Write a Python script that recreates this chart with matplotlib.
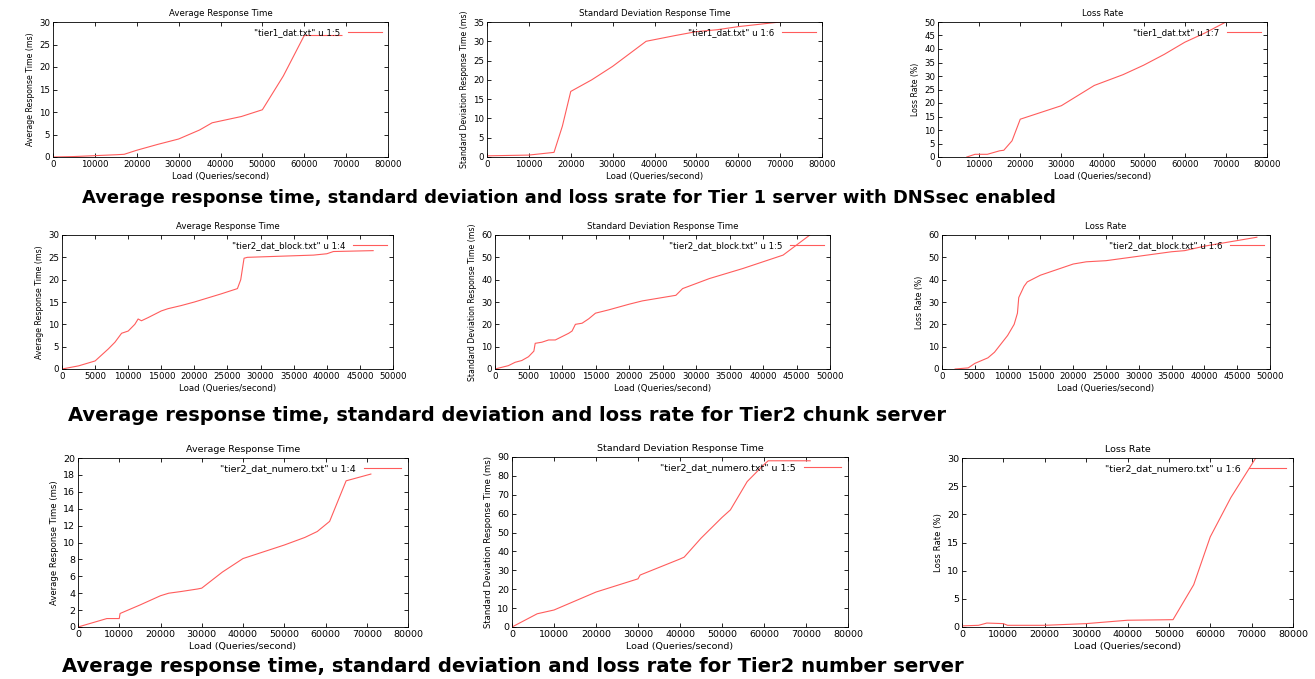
import matplotlib
matplotlib.use("Agg")
import matplotlib.pyplot as plt

plt.rcParams['font.family'] = ['DejaVu Sans']

W, H = 1315, 679
RED = '#ff5c5c'

# ---- Tier 1 (DNSsec) ----
t1_avg_x = [0, 5000, 10000, 15000, 17000, 20000, 25000, 30000, 35000, 38000, 45000, 50000, 55000, 60000, 69000]
t1_avg_y = [0, 0.1, 0.3, 0.5, 0.6, 1.5, 2.8, 4, 6, 7.6, 9, 10.5, 18, 27, 27]
t1_std_x = [0, 10000, 16000, 18000, 20000, 25000, 30000, 38000, 45000, 50000, 55000, 60000, 70000]
t1_std_y = [0.3, 0.5, 1.2, 8, 17, 20, 23.5, 30, 31.5, 32.5, 33, 33.8, 35]
t1_loss_x = [7000, 9000, 12000, 15000, 16000, 18000, 20000, 25000, 30000, 38000, 45000, 50000, 55000, 60000, 65000, 70000]
t1_loss_y = [0, 1, 1, 2.3, 2.5, 6, 14, 16.5, 19, 26.5, 30.5, 34, 38, 42.5, 46, 50]

# ---- Tier 2 chunk server ----
ch_avg_x = [0, 2500, 5000, 7000, 8000, 9000, 10000, 11000, 11500, 12000, 13000, 15000, 16000, 18000, 20000,
            24000, 26500, 27000, 27500, 28000, 32000, 38000, 40000, 41000, 47000]
ch_avg_y = [0, 0.7, 1.8, 4.5, 6, 8, 8.5, 10, 11.2, 10.8, 11.5, 13, 13.5, 14.2, 15,
            16.8, 18, 20, 24.8, 25, 25.2, 25.5, 25.8, 26.3, 26.5]
ch_std_x = [0, 2000, 3000, 4000, 5000, 5800, 6000, 7000, 8000, 9000, 10000, 11000, 11500, 12000, 13000, 14000,
            15000, 17000, 20000, 22000, 26000, 27000, 28000, 32000, 37000, 41000, 43000, 47000]
ch_std_y = [0, 1.5, 3, 3.8, 5.5, 8, 11.5, 12, 13, 13, 14.5, 16, 17, 20, 20.5, 22.5,
            25, 26.5, 29, 30.5, 32.5, 33, 36, 40.5, 45, 49, 51, 60]
ch_loss_x = [2000, 4000, 5000, 7000, 8000, 10000, 11000, 11500, 11700, 12500, 13000, 15000, 17000, 20000, 22000,
             25000, 30000, 35000, 37000, 40000, 45000, 48000]
ch_loss_y = [0, 0.5, 2.5, 5, 7.5, 15, 20, 25, 32, 37, 39, 42, 44, 47, 48,
             48.5, 50.5, 52.5, 53, 55, 57.5, 59]

# ---- Tier 2 number server ----
nu_avg_x = [0, 7000, 10000, 10200, 15000, 20000, 22000, 25000, 29000, 30000, 35000, 40000, 45000, 50000,
            55000, 58000, 61000, 65000, 71000]
nu_avg_y = [0, 1, 1, 1.6, 2.6, 3.7, 4, 4.2, 4.5, 4.6, 6.5, 8.1, 8.9, 9.7,
            10.6, 11.3, 12.5, 17.3, 18.1]
nu_std_x = [0, 6000, 10000, 20000, 30000, 30500, 40000, 41000, 45000, 50000, 52000, 56000, 60000, 61000, 71000]
nu_std_y = [0, 7, 9, 18.5, 25.5, 27.5, 36, 37, 47, 58, 62, 77, 86, 88, 88]
nu_loss_x = [0, 4000, 6000, 10000, 11000, 20000, 30000, 40000, 51000, 56000, 60000, 65000, 71000]
nu_loss_y = [0.2, 0.3, 0.7, 0.6, 0.3, 0.3, 0.6, 1.2, 1.3, 7.5, 16, 23, 30]

titles = ["Average Response Time", "Standard Deviation Response Time", "Loss Rate"]
ylabels = ["Average Response Time (ms)", "Standard Deviation Response Time (ms)", "Loss Rate (%)"]

rows = [
    dict(series=[(t1_avg_x, t1_avg_y), (t1_std_x, t1_std_y), (t1_loss_x, t1_loss_y)],
         keys=['"tier1_dat.txt" u 1:5', '"tier1_dat.txt" u 1:6', '"tier1_dat.txt" u 1:7'],
         xmax=80000, xstep=10000, ylims=[(30, 5), (35, 5), (50, 5)],
         boxes=[(53, 22, 388, 157), (487, 22, 822, 157), (938, 22, 1267, 157)], fs=6.2),
    dict(series=[(ch_avg_x, ch_avg_y), (ch_std_x, ch_std_y), (ch_loss_x, ch_loss_y)],
         keys=['"tier2_dat_block.txt" u 1:4', '"tier2_dat_block.txt" u 1:5', '"tier2_dat_block.txt" u 1:6'],
         xmax=50000, xstep=5000, ylims=[(30, 5), (60, 10), (60, 10)],
         boxes=[(62, 235, 393, 369), (495, 235, 830, 369), (942, 235, 1270, 369)], fs=6.2),
    dict(series=[(nu_avg_x, nu_avg_y), (nu_std_x, nu_std_y), (nu_loss_x, nu_loss_y)],
         keys=['"tier2_dat_numero.txt" u 1:4', '"tier2_dat_numero.txt" u 1:5', '"tier2_dat_numero.txt" u 1:6'],
         xmax=80000, xstep=10000, ylims=[(20, 2), (90, 10), (30, 5)],
         boxes=[(78, 458, 408, 627), (512, 457, 848, 627), (962, 458, 1293, 627)], fs=6.8),
]

captions = [
    (82, 198, 12.9, "Average response time, standard deviation and loss srate for Tier 1 server with DNSsec enabled"),
    (68, 415, 14.0, "Average response time, standard deviation and loss rate for Tier2 chunk server"),
    (62, 666, 14.1, "Average response time, standard deviation and loss rate for Tier2 number server"),
]

fig = plt.figure(figsize=(W / 100, H / 100), dpi=100)

for row in rows:
    for i in range(3):
        l, t, r, b = row['boxes'][i]
        ax = fig.add_axes([l / W, (H - b) / H, (r - l) / W, (b - t) / H])
        x, y = row['series'][i]
        ax.plot(x, y, color=RED, lw=0.8, label=row['keys'][i])
        ymax, ystep = row['ylims'][i]
        ax.set_xlim(0, row['xmax'])
        ax.set_ylim(0, ymax)
        ax.set_xticks(range(0, row['xmax'] + 1, row['xstep']))
        ax.set_yticks(range(0, ymax + 1, ystep))
        fs = row['fs']
        ax.tick_params(direction='in', top=True, right=True, labelsize=fs, length=3, width=0.6, pad=2)
        for s in ax.spines.values():
            s.set_linewidth(0.6)
        ax.set_title(titles[i], fontsize=fs, pad=4)
        ax.set_xlabel("Load (Queries/second)", fontsize=fs, labelpad=2)
        ax.set_ylabel(ylabels[i], fontsize=fs * 0.9, labelpad=3)
        ax.legend(loc='upper right', frameon=False, markerfirst=False, fontsize=fs,
                  handlelength=4, borderaxespad=0.3, handletextpad=0.8)

for cx, cy, size, text in captions:
    fig.text(cx / W, 1 - cy / H, text, fontsize=size, fontweight='bold', ha='left', va='center')

fig.savefig("out.png", dpi=100, facecolor='white')
